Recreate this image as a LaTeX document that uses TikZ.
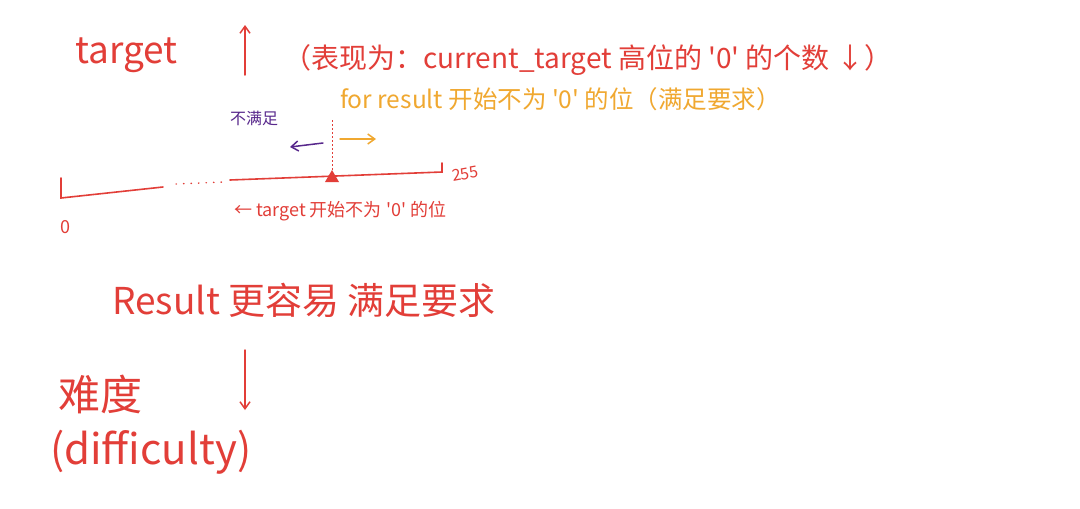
\documentclass[tikz,border=0pt]{standalone}
\usepackage{fontspec}
\newfontfamily\cjk{Noto Sans CJK SC}
\usetikzlibrary{arrows.meta}
\definecolor{inkred}{RGB}{226,62,56}
\definecolor{inkorange}{RGB}{240,168,48}
\definecolor{inkpurple}{RGB}{88,40,140}
\tikzset{
  hand/.style={inner sep=0pt, anchor=west, font=\cjk},
  redink/.style={hand, text=inkred},
  orangeink/.style={hand, text=inkorange},
  purpleink/.style={hand, text=inkpurple},
  redline/.style={draw=inkred, line width=1.6pt, line cap=round},
  arr/.style={-{Straight Barb[length=7pt,width=10pt]}, line width=1.5pt, line cap=round}
}
\begin{document}
\begin{tikzpicture}[x=1pt,y=-1pt]
\useasboundingbox[fill=white] (0,0) rectangle (1080,509);
% top line
\node[redink, font=\cjk\fontsize{37}{39}\selectfont] (tg) at (75,55) {target};
\coordinate (upS) at (245,75);
\coordinate (upE) at (245,25);
\draw[redline, arr, draw=inkred] (upS) -- (upE);
\node[redink, font=\cjk\fontsize{28}{30}\selectfont] (expr) at (283,60) {（表现为：current\_target 高位的 '0' 的个数 ↓）};
% orange line
\node[orangeink, font=\cjk\fontsize{24.5}{26}\selectfont] (for) at (340,99) {for result 开始不为 '0' 的位（满足要求）};
% purple
\node[purpleink, font=\cjk\fontsize{16}{18}\selectfont] (no) at (230,118) {不满足};
% marker
\coordinate (mk) at (332,170);
\coordinate (mkTop) at (332,120);
\draw[inkred, line width=1pt, dash pattern=on 2pt off 2pt] (mkTop) -- (mk);
\coordinate (pS) at (323,143);
\coordinate (pE) at (290,147);
\draw[arr, draw=inkpurple] (pS) -- (pE);
\coordinate (oS) at (340,139);
\coordinate (oE) at (376,139);
\draw[arr, draw=inkorange] (oS) -- (oE);
\fill[inkred] (mk) -- (325,182) -- (339,182) -- cycle;
% axis
\coordinate (a0t) at (61,178);
\coordinate (a0) at (61,198);
\coordinate (a1) at (163,187);
\coordinate (a2) at (230,180);
\coordinate (a3) at (442,172);
\coordinate (a3t) at (442,163);
\draw[redline] (a0t) -- (a0) -- (a1);
\draw[inkred, line width=1.4pt, line cap=round, dash pattern=on 0.5pt off 7pt] (176,184) -- (224,182);
\draw[redline] (a2) -- (a3) -- (a3t);
\node[redink, font=\cjk\fontsize{16}{18}\selectfont, rotate=10] (n255) at (452,176) {255};
\node[redink, font=\cjk\fontsize{18}{20}\selectfont] (n0) at (60,227) {0};
\node[redink, font=\cjk\fontsize{18}{20}\selectfont] (tlbl) at (234,211) {← target 开始不为 '0' 的位};
% result line
\node[redink, font=\cjk\fontsize{37}{39}\selectfont] (res) at (112,300) {Result 更容易 满足要求};
\node[redink, font=\cjk\fontsize{42}{44}\selectfont] (nd) at (58,394) {难度};
\coordinate (dnS) at (245,350);
\coordinate (dnE) at (245,410);
\draw[redline, arr, draw=inkred] (dnS) -- (dnE);
\node[redink, font=\cjk\fontsize{42}{44}\selectfont] (diff) at (50,452) {(difficulty)};
\end{tikzpicture}
\end{document}
